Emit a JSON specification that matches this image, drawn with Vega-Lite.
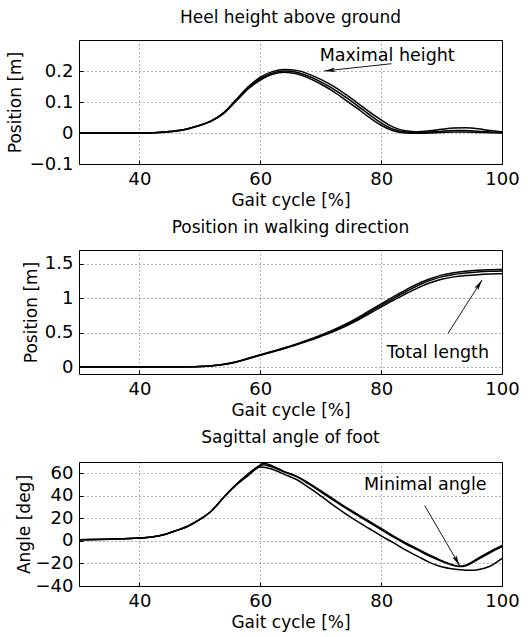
{
  "$schema": "https://vega.github.io/schema/vega-lite/v6.json",
  "background": "white",
  "padding": {"left": 5, "top": 8, "right": 5, "bottom": 3},
  "spacing": 9,
  "config": {
    "font": "DejaVu Sans",
    "view": {"stroke": "black", "strokeWidth": 1},
    "axis": {
      "domain": false,
      "grid": true,
      "gridColor": "#000000",
      "gridDash": [1, 3],
      "gridOpacity": 0.6,
      "gridWidth": 1,
      "ticks": true,
      "tickColor": "#000000",
      "tickSize": -4,
      "labelFontSize": 18,
      "labelColor": "#000000",
      "labelPadding": 10,
      "labelOverlap": false,
      "labelFlush": false,
      "titleFontSize": 17,
      "titleFontWeight": "normal",
      "titleColor": "#000000"
    },
    "title": {"fontSize": 17, "fontWeight": "normal", "color": "#000000", "frame": "group", "anchor": "middle", "baseline": "alphabetic", "offset": 13}
  },
  "datasets": {
    "heel": [
      {"s":"a","x":30,"y":0},{"s":"a","x":35,"y":0},{"s":"a","x":40,"y":0},{"s":"a","x":43,"y":0.002},{"s":"a","x":46,"y":0.007},{"s":"a","x":48,"y":0.014},{"s":"a","x":50,"y":0.025},{"s":"a","x":52,"y":0.041},{"s":"a","x":54,"y":0.067},{"s":"a","x":56,"y":0.108},{"s":"a","x":58,"y":0.149},{"s":"a","x":60,"y":0.18},{"s":"a","x":62,"y":0.198},{"s":"a","x":64,"y":0.205},{"s":"a","x":66,"y":0.202},{"s":"a","x":68,"y":0.19},{"s":"a","x":70,"y":0.173},{"s":"a","x":72,"y":0.152},{"s":"a","x":74,"y":0.126},{"s":"a","x":76,"y":0.098},{"s":"a","x":78,"y":0.069},{"s":"a","x":80,"y":0.042},{"s":"a","x":82,"y":0.019},{"s":"a","x":84,"y":0.007},{"s":"a","x":86,"y":0.004},{"s":"a","x":88,"y":0.007},{"s":"a","x":90,"y":0.012},{"s":"a","x":92,"y":0.016},{"s":"a","x":94,"y":0.017},{"s":"a","x":96,"y":0.014},{"s":"a","x":98,"y":0.008},{"s":"a","x":100,"y":0.004},
      {"s":"b","x":30,"y":0},{"s":"b","x":35,"y":0},{"s":"b","x":40,"y":0},{"s":"b","x":43,"y":0.002},{"s":"b","x":46,"y":0.007},{"s":"b","x":48,"y":0.014},{"s":"b","x":50,"y":0.025},{"s":"b","x":52,"y":0.04},{"s":"b","x":54,"y":0.065},{"s":"b","x":56,"y":0.105},{"s":"b","x":58,"y":0.145},{"s":"b","x":60,"y":0.175},{"s":"b","x":62,"y":0.193},{"s":"b","x":64,"y":0.2},{"s":"b","x":66,"y":0.196},{"s":"b","x":68,"y":0.183},{"s":"b","x":70,"y":0.165},{"s":"b","x":72,"y":0.143},{"s":"b","x":74,"y":0.117},{"s":"b","x":76,"y":0.089},{"s":"b","x":78,"y":0.06},{"s":"b","x":80,"y":0.033},{"s":"b","x":82,"y":0.012},{"s":"b","x":84,"y":0.003},{"s":"b","x":86,"y":0.001},{"s":"b","x":88,"y":0.003},{"s":"b","x":90,"y":0.006},{"s":"b","x":92,"y":0.008},{"s":"b","x":94,"y":0.008},{"s":"b","x":96,"y":0.006},{"s":"b","x":98,"y":0.003},{"s":"b","x":100,"y":0.001},
      {"s":"c","x":30,"y":0},{"s":"c","x":35,"y":0},{"s":"c","x":40,"y":0},{"s":"c","x":43,"y":0.001},{"s":"c","x":46,"y":0.006},{"s":"c","x":48,"y":0.013},{"s":"c","x":50,"y":0.024},{"s":"c","x":52,"y":0.039},{"s":"c","x":54,"y":0.064},{"s":"c","x":56,"y":0.103},{"s":"c","x":58,"y":0.142},{"s":"c","x":60,"y":0.171},{"s":"c","x":62,"y":0.189},{"s":"c","x":64,"y":0.196},{"s":"c","x":66,"y":0.191},{"s":"c","x":68,"y":0.177},{"s":"c","x":70,"y":0.158},{"s":"c","x":72,"y":0.135},{"s":"c","x":74,"y":0.108},{"s":"c","x":76,"y":0.08},{"s":"c","x":78,"y":0.051},{"s":"c","x":80,"y":0.025},{"s":"c","x":82,"y":0.007},{"s":"c","x":84,"y":0},{"s":"c","x":86,"y":-0.001},{"s":"c","x":88,"y":0},{"s":"c","x":90,"y":0.002},{"s":"c","x":92,"y":0.003},{"s":"c","x":94,"y":0.003},{"s":"c","x":96,"y":0.002},{"s":"c","x":98,"y":0.001},{"s":"c","x":100,"y":0}
    ],
    "forward": [
      {"s":"a","x":30,"y":0},{"s":"a","x":40,"y":0},{"s":"a","x":45,"y":0.002},{"s":"a","x":50,"y":0.01},{"s":"a","x":52,"y":0.02},{"s":"a","x":54,"y":0.041},{"s":"a","x":56,"y":0.077},{"s":"a","x":58,"y":0.128},{"s":"a","x":60,"y":0.179},{"s":"a","x":62,"y":0.23},{"s":"a","x":64,"y":0.281},{"s":"a","x":66,"y":0.337},{"s":"a","x":68,"y":0.398},{"s":"a","x":70,"y":0.465},{"s":"a","x":72,"y":0.537},{"s":"a","x":74,"y":0.619},{"s":"a","x":76,"y":0.712},{"s":"a","x":78,"y":0.815},{"s":"a","x":80,"y":0.918},{"s":"a","x":82,"y":1.02},{"s":"a","x":84,"y":1.118},{"s":"a","x":86,"y":1.207},{"s":"a","x":88,"y":1.28},{"s":"a","x":90,"y":1.335},{"s":"a","x":92,"y":1.37},{"s":"a","x":94,"y":1.392},{"s":"a","x":96,"y":1.405},{"s":"a","x":98,"y":1.413},{"s":"a","x":100,"y":1.418},
      {"s":"b","x":30,"y":0},{"s":"b","x":40,"y":0},{"s":"b","x":45,"y":0.002},{"s":"b","x":50,"y":0.01},{"s":"b","x":52,"y":0.02},{"s":"b","x":54,"y":0.04},{"s":"b","x":56,"y":0.075},{"s":"b","x":58,"y":0.125},{"s":"b","x":60,"y":0.175},{"s":"b","x":62,"y":0.225},{"s":"b","x":64,"y":0.275},{"s":"b","x":66,"y":0.33},{"s":"b","x":68,"y":0.39},{"s":"b","x":70,"y":0.455},{"s":"b","x":72,"y":0.525},{"s":"b","x":74,"y":0.605},{"s":"b","x":76,"y":0.695},{"s":"b","x":78,"y":0.795},{"s":"b","x":80,"y":0.895},{"s":"b","x":82,"y":0.995},{"s":"b","x":84,"y":1.09},{"s":"b","x":86,"y":1.18},{"s":"b","x":88,"y":1.255},{"s":"b","x":90,"y":1.31},{"s":"b","x":92,"y":1.345},{"s":"b","x":94,"y":1.365},{"s":"b","x":96,"y":1.38},{"s":"b","x":98,"y":1.39},{"s":"b","x":100,"y":1.395},
      {"s":"c","x":30,"y":0},{"s":"c","x":40,"y":0},{"s":"c","x":45,"y":0.001},{"s":"c","x":50,"y":0.009},{"s":"c","x":52,"y":0.019},{"s":"c","x":54,"y":0.038},{"s":"c","x":56,"y":0.072},{"s":"c","x":58,"y":0.121},{"s":"c","x":60,"y":0.171},{"s":"c","x":62,"y":0.22},{"s":"c","x":64,"y":0.269},{"s":"c","x":66,"y":0.323},{"s":"c","x":68,"y":0.381},{"s":"c","x":70,"y":0.445},{"s":"c","x":72,"y":0.513},{"s":"c","x":74,"y":0.59},{"s":"c","x":76,"y":0.677},{"s":"c","x":78,"y":0.774},{"s":"c","x":80,"y":0.871},{"s":"c","x":82,"y":0.968},{"s":"c","x":84,"y":1.06},{"s":"c","x":86,"y":1.147},{"s":"c","x":88,"y":1.22},{"s":"c","x":90,"y":1.275},{"s":"c","x":92,"y":1.31},{"s":"c","x":94,"y":1.33},{"s":"c","x":96,"y":1.342},{"s":"c","x":98,"y":1.35},{"s":"c","x":100,"y":1.355}
    ],
    "angle": [
      {"s":"a","x":30,"y":1},{"s":"a","x":35,"y":1.5},{"s":"a","x":40,"y":2.5},{"s":"a","x":42,"y":3.5},{"s":"a","x":44,"y":5.5},{"s":"a","x":46,"y":9},{"s":"a","x":48,"y":13},{"s":"a","x":50,"y":19},{"s":"a","x":52,"y":27},{"s":"a","x":54,"y":39},{"s":"a","x":56,"y":50},{"s":"a","x":58,"y":59.5},{"s":"a","x":60,"y":67.5},{"s":"a","x":60.5,"y":69},{"s":"a","x":62,"y":66.5},{"s":"a","x":64,"y":61.5},{"s":"a","x":66,"y":57.5},{"s":"a","x":68,"y":51.5},{"s":"a","x":70,"y":44.5},{"s":"a","x":72,"y":37.5},{"s":"a","x":74,"y":30.5},{"s":"a","x":76,"y":24},{"s":"a","x":78,"y":17.5},{"s":"a","x":80,"y":11},{"s":"a","x":82,"y":4.5},{"s":"a","x":84,"y":-1.5},{"s":"a","x":86,"y":-7},{"s":"a","x":88,"y":-12.5},{"s":"a","x":90,"y":-17.5},{"s":"a","x":92,"y":-21.5},{"s":"a","x":93,"y":-22.8},{"s":"a","x":94,"y":-22},{"s":"a","x":96,"y":-16.5},{"s":"a","x":98,"y":-10.5},{"s":"a","x":100,"y":-5},
      {"s":"b","x":30,"y":1},{"s":"b","x":35,"y":1.5},{"s":"b","x":40,"y":2.5},{"s":"b","x":42,"y":3.5},{"s":"b","x":44,"y":5.5},{"s":"b","x":46,"y":9},{"s":"b","x":48,"y":13},{"s":"b","x":50,"y":19},{"s":"b","x":52,"y":27},{"s":"b","x":54,"y":39},{"s":"b","x":56,"y":50},{"s":"b","x":58,"y":59},{"s":"b","x":60,"y":66.5},{"s":"b","x":60.5,"y":67.5},{"s":"b","x":62,"y":65.5},{"s":"b","x":64,"y":61},{"s":"b","x":66,"y":57},{"s":"b","x":68,"y":50.5},{"s":"b","x":70,"y":43.5},{"s":"b","x":72,"y":36.5},{"s":"b","x":74,"y":29.5},{"s":"b","x":76,"y":23},{"s":"b","x":78,"y":16.5},{"s":"b","x":80,"y":10},{"s":"b","x":82,"y":3.5},{"s":"b","x":84,"y":-2.5},{"s":"b","x":86,"y":-8},{"s":"b","x":88,"y":-13.5},{"s":"b","x":90,"y":-18},{"s":"b","x":92,"y":-21.8},{"s":"b","x":93,"y":-22.5},{"s":"b","x":94,"y":-21.5},{"s":"b","x":96,"y":-15.5},{"s":"b","x":98,"y":-9.5},{"s":"b","x":100,"y":-4},
      {"s":"c","x":30,"y":1},{"s":"c","x":35,"y":1.5},{"s":"c","x":40,"y":2.5},{"s":"c","x":42,"y":3.5},{"s":"c","x":44,"y":5.5},{"s":"c","x":46,"y":9},{"s":"c","x":48,"y":13},{"s":"c","x":50,"y":19},{"s":"c","x":52,"y":27},{"s":"c","x":54,"y":39},{"s":"c","x":56,"y":49.5},{"s":"c","x":58,"y":58},{"s":"c","x":60,"y":65.5},{"s":"c","x":62,"y":63.5},{"s":"c","x":64,"y":59},{"s":"c","x":66,"y":54.5},{"s":"c","x":68,"y":47.5},{"s":"c","x":70,"y":40},{"s":"c","x":72,"y":32},{"s":"c","x":74,"y":24.5},{"s":"c","x":76,"y":17.5},{"s":"c","x":78,"y":11},{"s":"c","x":80,"y":4.5},{"s":"c","x":82,"y":-1.5},{"s":"c","x":84,"y":-8},{"s":"c","x":86,"y":-13.5},{"s":"c","x":88,"y":-19},{"s":"c","x":90,"y":-23},{"s":"c","x":92,"y":-25},{"s":"c","x":94,"y":-26},{"s":"c","x":95,"y":-26},{"s":"c","x":96,"y":-25.5},{"s":"c","x":98,"y":-22.5},{"s":"c","x":100,"y":-15.5}
    ]
  },
  "vconcat": [
    {
      "width": 423, "height": 124,
      "title": "Heel height above ground",
      "encoding": {
        "x": {"field": "x", "type": "quantitative", "scale": {"domain": [30, 100], "nice": false, "zero": false},
              "axis": {"values": [40, 60, 80, 100], "title": "Gait cycle [%]", "titleY": 41, "titleBaseline": "alphabetic", "labelPadding": 10.5}},
        "y": {"field": "y", "type": "quantitative", "scale": {"domain": [-0.1, 0.3], "nice": false, "zero": false},
              "axis": {"values": [-0.1, 0, 0.1, 0.2], "format": ".2~f", "title": "Position [m]", "titleX": -55}}
      },
      "layer": [
        {"data": {"name": "heel"}, "mark": {"type": "line", "color": "black", "strokeWidth": 1.5, "interpolate": "monotone"}, "encoding": {"detail": {"field": "s"}}},
        {"data": {"values": [{"label": "Maximal height", "tx": 81, "ty": 0.232, "x": 81.7, "y": 0.2235, "xe": 70.6, "ye": 0.2}]},
         "layer": [
           {"mark": {"type": "rule", "color": "black", "strokeWidth": 0.9}, "encoding": {"x2": {"field": "xe"}, "y2": {"field": "ye"}}},
           {"mark": {"type": "point", "shape": "M0,0L-0.45,2.2L0,1.7L0.45,2.2Z", "filled": true, "color": "black", "opacity": 1, "size": 100, "angle": 263.8},
            "encoding": {"x": {"field": "xe", "type": "quantitative"}, "y": {"field": "ye", "type": "quantitative"}}},
           {"mark": {"type": "text", "fontSize": 17.5, "baseline": "alphabetic", "align": "center", "color": "black"},
            "encoding": {"x": {"field": "tx", "type": "quantitative"}, "y": {"field": "ty", "type": "quantitative"}, "text": {"field": "label"}}}
         ]}
      ]
    },
    {
      "width": 423, "height": 124,
      "title": "Position in walking direction",
      "encoding": {
        "x": {"field": "x", "type": "quantitative", "scale": {"domain": [30, 100], "nice": false, "zero": false},
              "axis": {"values": [40, 60, 80, 100], "title": "Gait cycle [%]", "titleY": 41, "titleBaseline": "alphabetic", "labelPadding": 10.5}},
        "y": {"field": "y", "type": "quantitative", "scale": {"domain": [-0.1, 1.7], "nice": false, "zero": false},
              "axis": {"values": [0, 0.5, 1, 1.5], "format": ".2~f", "title": "Position [m]", "titleX": -39}}
      },
      "layer": [
        {"data": {"name": "forward"}, "mark": {"type": "line", "color": "black", "strokeWidth": 1.5, "interpolate": "monotone"}, "encoding": {"detail": {"field": "s"}}},
        {"data": {"values": [{"label": "Total length", "tx": 89.4, "ty": 0.128, "x": 91.07, "y": 0.49, "xe": 96.7, "ye": 1.265}]},
         "layer": [
           {"mark": {"type": "rule", "color": "black", "strokeWidth": 0.9}, "encoding": {"x2": {"field": "xe"}, "y2": {"field": "ye"}}},
           {"mark": {"type": "point", "shape": "M0,0L-0.45,2.2L0,1.7L0.45,2.2Z", "filled": true, "color": "black", "opacity": 1, "size": 100, "angle": 32.8},
            "encoding": {"x": {"field": "xe", "type": "quantitative"}, "y": {"field": "ye", "type": "quantitative"}}},
           {"mark": {"type": "text", "fontSize": 17.5, "baseline": "alphabetic", "align": "center", "color": "black"},
            "encoding": {"x": {"field": "tx", "type": "quantitative"}, "y": {"field": "ty", "type": "quantitative"}, "text": {"field": "label"}}}
         ]}
      ]
    },
    {
      "width": 423, "height": 124,
      "title": "Sagittal angle of foot",
      "encoding": {
        "x": {"field": "x", "type": "quantitative", "scale": {"domain": [30, 100], "nice": false, "zero": false},
              "axis": {"values": [40, 60, 80, 100], "title": "Gait cycle [%]", "titleY": 41, "titleBaseline": "alphabetic", "labelPadding": 10.5}},
        "y": {"field": "y", "type": "quantitative", "scale": {"domain": [-40, 70], "nice": false, "zero": false},
              "axis": {"values": [-40, -20, 0, 20, 40, 60], "format": ".2~f", "title": "Angle [deg]", "titleX": -46}}
      },
      "layer": [
        {"data": {"name": "angle"}, "mark": {"type": "line", "color": "black", "strokeWidth": 1.5, "interpolate": "monotone"}, "encoding": {"detail": {"field": "s"}}},
        {"data": {"values": [{"label": "Minimal angle", "tx": 87.3, "ty": 45.3, "x": 87.2, "y": 31.4, "xe": 93.0, "ye": -22}]},
         "layer": [
           {"mark": {"type": "rule", "color": "black", "strokeWidth": 0.9}, "encoding": {"x2": {"field": "xe"}, "y2": {"field": "ye"}}},
           {"mark": {"type": "point", "shape": "M0,0L-0.45,2.2L0,1.7L0.45,2.2Z", "filled": true, "color": "black", "opacity": 1, "size": 100, "angle": 149.7},
            "encoding": {"x": {"field": "xe", "type": "quantitative"}, "y": {"field": "ye", "type": "quantitative"}}},
           {"mark": {"type": "text", "fontSize": 17.5, "baseline": "alphabetic", "align": "center", "color": "black"},
            "encoding": {"x": {"field": "tx", "type": "quantitative"}, "y": {"field": "ty", "type": "quantitative"}, "text": {"field": "label"}}}
         ]}
      ]
    }
  ]
}
